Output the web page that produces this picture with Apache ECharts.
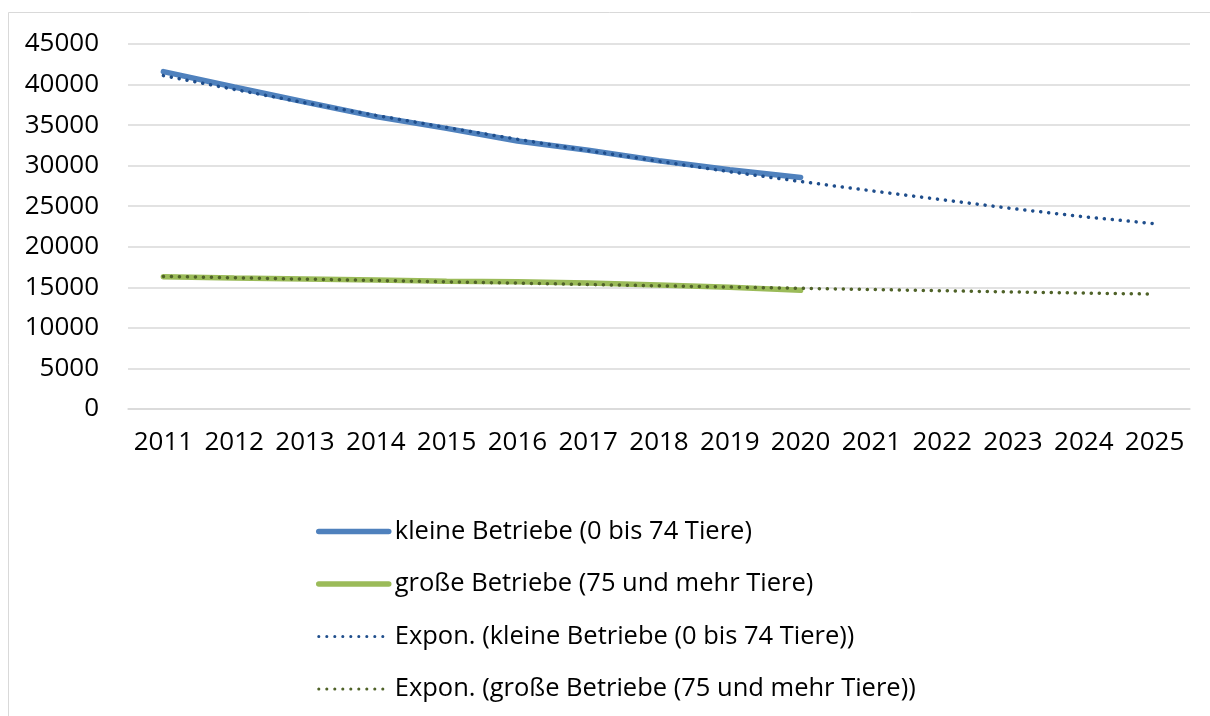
<!DOCTYPE html>
<html>
<head>
<meta charset="utf-8">
<script src="https://cdn.jsdelivr.net/npm/echarts@6/dist/echarts.min.js"></script>
<style>
html,body{margin:0;padding:0;background:#fff;}
#c{width:1210px;height:716px;}
</style>
</head>
<body>
<div id="c"></div>
<script>
const years = ['2011','2012','2013','2014','2015','2016','2017','2018','2019','2020','2021','2022','2023','2024','2025'];
const yTicks = [0,5000,10000,15000,20000,25000,30000,35000,40000,45000];
const kleine = [41600, 39700, 37850, 36050, 34600, 33050, 31900, 30600, 29500, 28550];
const grosse = [16300, 16150, 16030, 15900, 15750, 15700, 15530, 15300, 15000, 14630];
const trendKleine = [41100, 39400, 37750, 36200, 34700, 33250, 31850, 30550, 29250, 28050, 26900, 25800, 24700, 23700, 22850];
const trendGrosse = [16350, 16180, 16010, 15850, 15680, 15520, 15350, 15190, 15030, 14880, 14730, 14580, 14430, 14290, 14170];
const names = ['kleine Betriebe (0 bis 74 Tiere)', 'große Betriebe (75 und mehr Tiere)', 'Expon. (kleine Betriebe (0 bis 74 Tiere))', 'Expon. (große Betriebe (75 und mehr Tiere))'];

const FONT = 'Open Sans';
const chart = echarts.init(document.getElementById('c'), null, {renderer:'canvas'});
const dotted = [0.1, 7.9];
const legendWidths = [5.5, 5.5, 3, 3];
chart.setOption({
  animation: false,
  backgroundColor: '#fff',
  textStyle: {fontFamily: FONT},
  graphic: [{
    type: 'rect', shape: {x: 8.5, y: 12.5, width: 1400, height: 900},
    style: {fill: 'none', stroke: '#d9d9d9', lineWidth: 1}, silent: true, z: -10
  }],
  grid: {left: 128, right: 20, top: 44, bottom: 307, containLabel: false},
  xAxis: {
    type: 'category', data: years, boundaryGap: true,
    axisLine: {show: true, lineStyle: {color: '#d9d9d9', width: 1.5}},
    axisTick: {show: false},
    axisLabel: {color: '#000', fontSize: 26, margin: 21, fontFamily: FONT, interval: 0}
  },
  yAxis: {
    type: 'value', min: 0, max: 45000, interval: 5000,
    axisLine: {show: false}, axisTick: {show: false},
    splitLine: {lineStyle: {color: '#d9d9d9', width: 1.5}},
    axisLabel: {color: '#000', fontSize: 26, margin: 29, fontFamily: FONT,
      formatter: v => yTicks.includes(v) ? String(v) : ''}
  },
  legend: {
    orient: 'vertical', left: 311, top: 511,
    itemWidth: 70, itemHeight: 14, itemGap: 21.5,
    textStyle: {fontSize: 25.5, color: '#000', fontFamily: FONT, lineHeight: 31, padding: [0,0,0,1]},
    data: names.map((n, i) => ({name: n, itemStyle: {opacity: 0}, lineStyle: {width: legendWidths[i], cap: 'round'}}))
  },
  series: [
    {name: names[0], type: 'line', data: kleine, symbol: 'none', z: 2,
     lineStyle: {color: '#4f81bd', width: 5.5, cap: 'round'}, itemStyle: {color: '#4f81bd'}},
    {name: names[1], type: 'line', data: grosse, symbol: 'none', z: 2,
     lineStyle: {color: '#9bbb59', width: 5.5, cap: 'round'}, itemStyle: {color: '#9bbb59'}},
    {name: names[2], type: 'line', data: trendKleine, symbol: 'none', z: 3,
     lineStyle: {color: '#1f4e8c', width: 3.5, type: dotted, cap: 'round'}, itemStyle: {color: '#1f4e8c'}},
    {name: names[3], type: 'line', data: trendGrosse, symbol: 'none', z: 3,
     lineStyle: {color: '#4f6228', width: 3.5, type: dotted, cap: 'round'}, itemStyle: {color: '#4f6228'}}
  ]
});
</script>
</body>
</html>
